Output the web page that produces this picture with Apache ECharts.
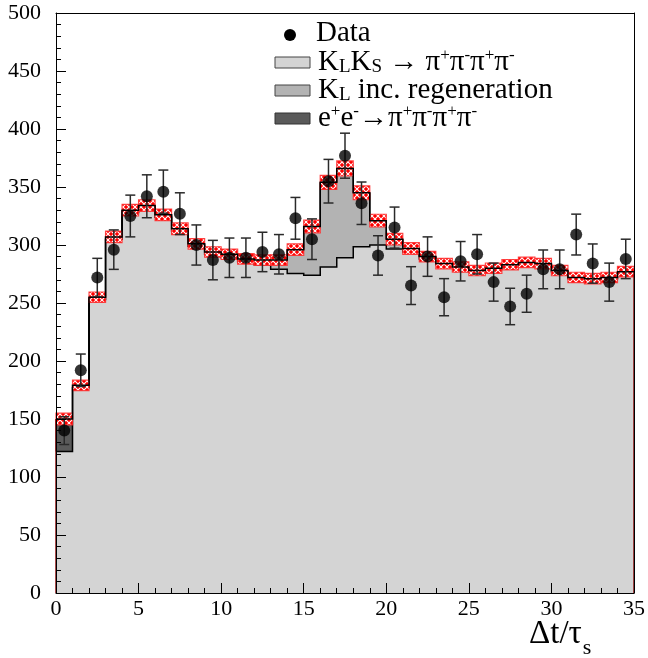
<!DOCTYPE html>
<html>
<head>
<meta charset="utf-8">
<script src="https://cdn.jsdelivr.net/npm/echarts@6/dist/echarts.min.js"></script>
<style>
html,body{margin:0;padding:0;background:#fff;}
#chart{width:648px;height:658px;}
</style>
</head>
<body>
<div id="chart"></div>
<script>
// ---------------- data ----------------
const binLow   = [0,1,2,3,4,5,6,7,8,9,10,11,12,13,14,15,16,17,18,19,20,21,22,23,24,25,26,27,28,29,30,31,32,33,34];
const binWidth = 1;
// K_L K_S -> pi+pi-pi+pi-  (light gray)
const klks  = [122,177,253,305,328,332,324,312,299,292,289,285.5,283,279,275.5,274,281,289,298.5,300,296.5,294,288,283,280,277,279,282,284,283,277,271,270,271,276];
// K_L incl. regeneration (medium gray)
const regen = [0,0,2,2,2,2,2,2,2,2,3,2.5,4,8,20.5,42,73,77,46.5,21,8.5,3,2,1,1,1,1,1,1,1,1,1,1,1,1];
// e+e- -> pi+pi-pi+pi- (dark gray)
const eeBkg = [28,2,0,0,0,0,0,0,0,0,0,0,0,0,0,0,0,0,0,0,0,0,0,0,0,0,0,0,0,0,0,0,0,0,0];
// MC uncertainty (red band half height)
const mcErr = [5,4.5,4.5,5,5,5,5,5,4.5,4.5,4.5,4.5,4.5,4.5,5,5.5,6,6.5,6,5.5,5,5,4.5,4.5,4.5,4.5,4.5,4.5,4.5,4.5,4.5,4.5,4.5,4.5,4.5];
// Data points
const dataVal = [140,192,272,296,325,342,346,327,300,287,289,289,294,292,323,305,355,377,336,291,315,265,290,255,286,292,268,247,258,279,279,309,284,268,288];
const dataErr = [12,14,16.5,17,18,18.5,18.6,18,17.3,17,17,17,17,17,18,17.5,18.8,19.4,18.3,17,17.7,16.3,17,16,17,17,16.4,15.7,16,16.7,16.7,17.6,16.9,16.4,17];
const xTicks = [0,5,10,15,20,25,30,35];
const yTicks = [0,50,100,150,200,250,300,350,400,450,500];

// ---------------- derived ----------------
const N = binLow.length;
const lvl1 = klks.slice();
const lvl2 = klks.map((v,i)=>v+regen[i]);
const total = lvl2.map((v,i)=>v+eeBkg[i]);
const zeros = binLow.map(()=>0);

const SERIF = "'Liberation Serif','Times New Roman','DejaVu Serif',serif";
const C_LIGHT = '#d4d4d4', C_MED = '#b3b3b3', C_DARK = '#5a5a5a';

// hatch pattern for the red band
const pc = document.createElement('canvas');
pc.width = 6; pc.height = 6;
const pctx = pc.getContext('2d');
pctx.fillStyle = '#ff0000'; pctx.fillRect(0,0,6,6);
pctx.strokeStyle = '#ffffff'; pctx.lineWidth = 1.1;
pctx.beginPath(); pctx.moveTo(0,0); pctx.lineTo(6,6); pctx.moveTo(6,0); pctx.lineTo(0,6); pctx.stroke();
const hatch = {image: pc, repeat: 'repeat'};

// measure axis-title width for subscript placement
const TITLE_FS = 33;
pctx.font = TITLE_FS + "px 'Liberation Serif', serif";
const titleW = pctx.measureText('Δt/τ').width;

function stepFill(lower, upper, fill, stroke){
  return function(params, api){
    if (params.dataIndex !== 0) return;
    const pts = [];
    for (let i=0;i<N;i++){ pts.push(api.coord([binLow[i], upper[i]])); pts.push(api.coord([binLow[i]+binWidth, upper[i]])); }
    for (let i=N-1;i>=0;i--){ pts.push(api.coord([binLow[i]+binWidth, lower[i]])); pts.push(api.coord([binLow[i], lower[i]])); }
    const st = {fill: fill};
    if (stroke){ st.stroke = stroke; st.lineWidth = 1; }
    return {type:'polygon', shape:{points:pts}, style: st};
  };
}
function stepLine(vals, color, w){
  return function(params, api){
    if (params.dataIndex !== 0) return;
    const pts = [];
    for (let i=0;i<N;i++){ pts.push(api.coord([binLow[i], vals[i]])); pts.push(api.coord([binLow[i]+binWidth, vals[i]])); }
    return {type:'polyline', shape:{points:pts}, style:{stroke:color, lineWidth:w, fill:null}};
  };
}
function ptsData(vals){ return binLow.map((x,i)=>[x, vals[i]]); }

const LF = 29; // legend font size
const subR = {fontFamily:SERIF, fontSize:19, lineHeight:16, verticalAlign:'bottom'};
const supR = {fontFamily:SERIF, fontSize:17, lineHeight:18, verticalAlign:'top'};

const option = {
  animation: false,
  backgroundColor: '#fff',
  grid: {left:56, right:10, top:13, bottom:65, containLabel:false},
  xAxis: [{
    type:'value', min:xTicks[0], max:xTicks[xTicks.length-1], interval:5, position:'bottom', z:10,
    axisLine:{show:true, onZero:false, lineStyle:{color:'#000', width:1}},
    axisTick:{show:true, inside:true, length:10, lineStyle:{color:'#000', width:1}},
    minorTick:{show:true, splitNumber:5, length:5, lineStyle:{color:'#000', width:1}},
    axisLabel:{color:'#000', fontFamily:SERIF, fontSize:22, margin:5},
    splitLine:{show:false}
  },{
    type:'value', min:0, max:35, position:'top', z:10,
    axisLine:{show:true, onZero:false, lineStyle:{color:'#000', width:1}},
    axisTick:{show:false}, axisLabel:{show:false}, splitLine:{show:false}
  }],
  yAxis: [{
    type:'value', min:yTicks[0], max:yTicks[yTicks.length-1], interval:50, position:'left', z:10,
    axisLine:{show:true, onZero:false, lineStyle:{color:'#000', width:1}},
    axisTick:{show:true, inside:true, length:10, lineStyle:{color:'#000', width:1}},
    minorTick:{show:true, splitNumber:5, length:5, lineStyle:{color:'#000', width:1}},
    axisLabel:{color:'#000', fontFamily:SERIF, fontSize:22, margin:15},
    splitLine:{show:false}
  },{
    type:'value', min:0, max:500, position:'right', z:10,
    axisLine:{show:true, onZero:false, lineStyle:{color:'#000', width:1}},
    axisTick:{show:false}, axisLabel:{show:false}, splitLine:{show:false}
  }],
  series: [
    {type:'custom', name:'KLKS', z:2, data:ptsData(lvl1), renderItem: stepFill(zeros, lvl1, C_LIGHT)},
    {type:'custom', name:'regen', z:3, data:ptsData(lvl2), renderItem: stepFill(lvl1, lvl2, C_MED)},
    {type:'custom', name:'ee', z:4, data:ptsData(total), renderItem: stepFill(lvl2, total, C_DARK, '#000')},
    {type:'custom', name:'klksLine', z:5, data:ptsData(lvl1), renderItem: stepLine(lvl1, '#000', 1.5)},
    {type:'custom', name:'band', z:6,
      data: binLow.map((x,i)=>[x, x+binWidth, total[i]-mcErr[i], total[i]+mcErr[i]]),
      renderItem: function(params, api){
        const a = api.coord([api.value(0), api.value(3)]);
        const b = api.coord([api.value(1), api.value(2)]);
        return {type:'rect', shape:{x:a[0], y:a[1], width:b[0]-a[0], height:b[1]-a[1]},
                style:{fill:hatch, stroke:'rgba(255,40,40,0.85)', lineWidth:1.2}};
      }},
    {type:'custom', name:'totalLine', z:7, data:ptsData(total), renderItem: stepLine(total, '#000', 1.5)},
    {type:'custom', name:'edges', z:7,
      data: [[binLow[0], total[0]], [binLow[N-1]+binWidth, total[N-1]]],
      renderItem: function(params, api){
        const t = api.coord([api.value(0), api.value(1)]);
        const b = api.coord([api.value(0), 0]);
        return {type:'line', shape:{x1:t[0], y1:t[1], x2:b[0], y2:b[1]}, style:{stroke:'#8b1010', lineWidth:1.5}};
      }},
    {type:'custom', name:'errbars', z:8,
      data: binLow.map((x,i)=>[x+binWidth/2, dataVal[i]-dataErr[i], dataVal[i]+dataErr[i]]),
      renderItem: function(params, api){
        const lo = api.coord([api.value(0), api.value(1)]);
        const hi = api.coord([api.value(0), api.value(2)]);
        const cw = 5, st = {stroke:'#2a2a2a', lineWidth:1.5};
        return {type:'group', children:[
          {type:'line', shape:{x1:lo[0], y1:lo[1], x2:hi[0], y2:hi[1]}, style:st},
          {type:'line', shape:{x1:lo[0]-cw, y1:lo[1], x2:lo[0]+cw, y2:lo[1]}, style:st},
          {type:'line', shape:{x1:hi[0]-cw, y1:hi[1], x2:hi[0]+cw, y2:hi[1]}, style:st}
        ]};
      }},
    {type:'scatter', name:'Data', z:9, symbol:'circle', symbolSize:12,
      itemStyle:{color:'#000'},
      data: binLow.map((x,i)=>[x+binWidth/2, dataVal[i]])}
  ],
  graphic: [
    {type:'circle', shape:{cx:290, cy:35, r:6}, style:{fill:'#000'}, z:20},
    {type:'text', x:316, y:33, z:20, style:{text:'Data', fontFamily:SERIF, fontSize:LF, fill:'#000', verticalAlign:'middle'}},
    {type:'rect', shape:{x:275, y:57, width:35, height:11}, style:{fill:C_LIGHT, stroke:'#444', lineWidth:1}, z:20},
    {type:'text', x:318, y:62, z:20, style:{
      text:'K{sub|L}K{sub|S} → π{sup|+}π{sup|-}π{sup|+}π{sup|-}', fontFamily:SERIF, fontSize:LF, fill:'#000', verticalAlign:'middle',
      rich:{sub:subR, sup:supR}}},
    {type:'rect', shape:{x:275, y:85, width:35, height:11}, style:{fill:C_MED, stroke:'#444', lineWidth:1}, z:20},
    {type:'text', x:318, y:90, z:20, style:{
      text:'K{sub|L} inc. regeneration', fontFamily:SERIF, fontSize:LF, fill:'#000', verticalAlign:'middle',
      rich:{sub:subR}}},
    {type:'rect', shape:{x:275, y:113, width:35, height:11}, style:{fill:C_DARK, stroke:'#333', lineWidth:1}, z:20},
    {type:'text', x:318, y:118, z:20, style:{
      text:'e{sup|+}e{sup|-}→π{sup|+}π{sup|-}π{sup|+}π{sup|-}', fontFamily:SERIF, fontSize:LF, fill:'#000', verticalAlign:'middle',
      rich:{sup:supR}}},
    {type:'text', x:529, y:634, z:20, style:{text:'Δt/τ', fontFamily:SERIF, fontSize:TITLE_FS, fill:'#000', verticalAlign:'middle'}},
    {type:'text', x:529 + titleW + 1, y:648, z:20, style:{text:'s', fontFamily:SERIF, fontSize:22, fill:'#000', verticalAlign:'middle'}}
  ]
};

const chart = echarts.init(document.getElementById('chart'), null, {renderer:'canvas'});
chart.setOption(option);
</script>
</body>
</html>
